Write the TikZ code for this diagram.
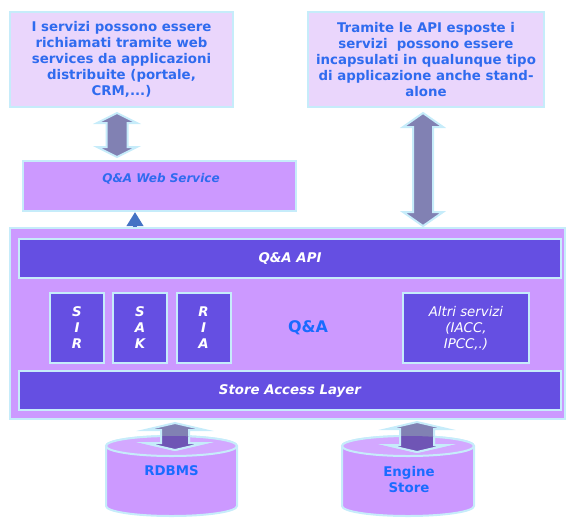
\documentclass[tikz,border=0pt]{standalone}
\usepackage{fontspec}
\setmainfont{DejaVu Sans}
\usetikzlibrary{calc,arrows.meta}

\definecolor{infofill}{HTML}{EAD6FC}
\definecolor{rimcyan}{HTML}{C6ECFA}
\definecolor{lilac}{HTML}{CC99FF}
\definecolor{lilactop}{HTML}{D3A8FF}
\definecolor{barblue}{HTML}{654FE2}
\definecolor{textblue}{HTML}{2F6BEF}
\definecolor{qablue}{HTML}{1A6BFF}
\definecolor{arrowgray}{HTML}{8181B3}
\definecolor{arrowdeep}{HTML}{6F55B5}
\definecolor{tipblue}{HTML}{4472C4}

% vertical block arrow with two heads: top, bottom, half shaft, head length, half head (px)
\newcommand\dblarrow[6][]{%
  \filldraw[#1] let \p1=(#2), \p2=(#3) in
    (\x1,\y1) -- (\x1+#6*0.75pt,\y1-#5*0.75pt) -- (\x1+#4*0.75pt,\y1-#5*0.75pt)
    -- (\x1+#4*0.75pt,\y2+#5*0.75pt) -- (\x1+#6*0.75pt,\y2+#5*0.75pt) -- (\x1,\y2)
    -- (\x1-#6*0.75pt,\y2+#5*0.75pt) -- (\x1-#4*0.75pt,\y2+#5*0.75pt)
    -- (\x1-#4*0.75pt,\y1-#5*0.75pt) -- (\x1-#6*0.75pt,\y1-#5*0.75pt) -- cycle;}
% outline of a store cylinder: command, centre x, half width (px)
\newcommand\cylshape[3]{%
  #1 (#2-#3,446) arc[start angle=180,end angle=0,x radius=#3*0.75pt,y radius=7.5pt]
    -- (#2+#3,506) arc[start angle=0,end angle=-180,x radius=#3*0.75pt,y radius=7.5pt] -- cycle;}

\tikzset{
  infobox/.style={draw=rimcyan, line width=1.5pt, fill=infofill, text=textblue,
    font=\fontsize{10}{12}\selectfont\bfseries, align=center, inner sep=0pt},
  lilacbox/.style={draw=rimcyan, line width=1.5pt, fill=lilac, inner sep=0pt},
  bar/.style={draw=rimcyan, line width=1.5pt, fill=barblue, text=white, inner sep=0pt,
    font=\fontsize{10}{12}\selectfont\bfseries\itshape, minimum width=542*.75, minimum height=39*.75},
  svcbox/.style={bar, align=center, minimum width=54*.75, minimum height=70*.75},
  bigarrow/.style={fill=arrowgray, draw=rimcyan, line width=1.5pt},
  cyl/.style={fill=lilac, draw=rimcyan, line width=1.5pt},
  storetext/.style={text=qablue, font=\fontsize{10}{12}\selectfont\bfseries, align=center},
}

\begin{document}
\begin{tikzpicture}[x=0.75pt,y=-0.75pt]
  \useasboundingbox (0,0) rectangle (566,517);

  % top notes
  \node[infobox, minimum width=223*.75, minimum height=95*.75] (info1) at (121.5,59.5)
    {I servizi possono essere\\richiamati tramite web\\services da applicazioni\\distribuite (portale,\\CRM,...)};
  \node[infobox, minimum width=236*.75, minimum height=95*.75] (info2) at (426,59.5)
    {Tramite le API esposte i\\servizi\ \ possono essere\\incapsulati in qualunque tipo\\di applicazione anche stand-\\alone};

  % web service
  \node[lilacbox, minimum width=273*.75, minimum height=50*.75] (web) at (159.5,186) {};
  \node[text=textblue, font=\fontsize{9}{11}\selectfont\bfseries\itshape] (webtxt) at (161,179) {Q\&A Web Service};

  % main block
  \node[lilacbox, minimum width=555*.75, minimum height=191*.75] (main) at (287.5,323.5) {};
  \node[bar] (api) at (290,258.5) {Q\&A API};
  \node[bar] (sal) at (290,390.5) {Store Access Layer};
  \node[svcbox] (sir) at (77,328) {S\\I\\R};
  \node[svcbox] (sak) at (140,328) {S\\A\\K};
  \node[svcbox] (ria) at (203.5,328) {R\\I\\A};
  \node[svcbox, minimum width=126*.75, font=\fontsize{10}{12}\selectfont\itshape] (altri) at (466,328)
    {Altri servizi\\(IACC,\\IPCC,.)};
  \node[text=qablue, font=\fontsize{12}{14}\selectfont\bfseries] (qa) at (308,328) {Q\&A};

  % small arrow main -> web service
  \coordinate (tx) at (135,0);
  \draw[tipblue, line width=3pt, -{Triangle[length=10.5pt,width=12pt]}] (main.north -| tx) -- (web.south -| tx);

  % arrows to the notes
  \coordinate (la) at (117,0);
  \coordinate (ra) at (423,0);
  \dblarrow[bigarrow]{[yshift=-3.75pt]info1.south -| la}{[yshift=2.25pt]web.north -| la}{10.5}{10}{20}
  \dblarrow[bigarrow]{[yshift=-3.75pt]info2.south -| ra}{[yshift=0.75pt]main.north -| ra}{10}{14}{20}

  % stores
  \coordinate (db1) at (171.5,446);
  \coordinate (db2) at (408,446);
  \coordinate (da) at (175,0);
  \coordinate (ea) at (417,0);
  \cylshape{\filldraw[cyl]}{171.5}{65.5}
  \filldraw[cyl, fill=lilactop] (db1) ellipse[x radius=65.5, y radius=10];
  \cylshape{\filldraw[cyl]}{408}{66}
  \filldraw[cyl, fill=lilactop] (db2) ellipse[x radius=66, y radius=10];

  \dblarrow[bigarrow]{[yshift=-2.25pt]main.south -| da}{[yshift=-3pt]db1 -| da}{14}{7}{30}
  \dblarrow[bigarrow]{[yshift=-1.5pt]main.south -| ea}{[yshift=-4.5pt]db2 -| ea}{17}{7}{30}
  \begin{scope}
    \cylshape{\clip}{171.5}{65.5}
    \dblarrow[bigarrow, fill=arrowdeep]{[yshift=-2.25pt]main.south -| da}{[yshift=-3pt]db1 -| da}{14}{7}{30}
  \end{scope}
  \begin{scope}
    \cylshape{\clip}{408}{66}
    \dblarrow[bigarrow, fill=arrowdeep]{[yshift=-1.5pt]main.south -| ea}{[yshift=-4.5pt]db2 -| ea}{17}{7}{30}
  \end{scope}

  \node[storetext] (rdbms) at (171.5,471) {RDBMS};
  \node[storetext] (engine) at (409,479.5) {Engine\\Store};
\end{tikzpicture}
\end{document}
